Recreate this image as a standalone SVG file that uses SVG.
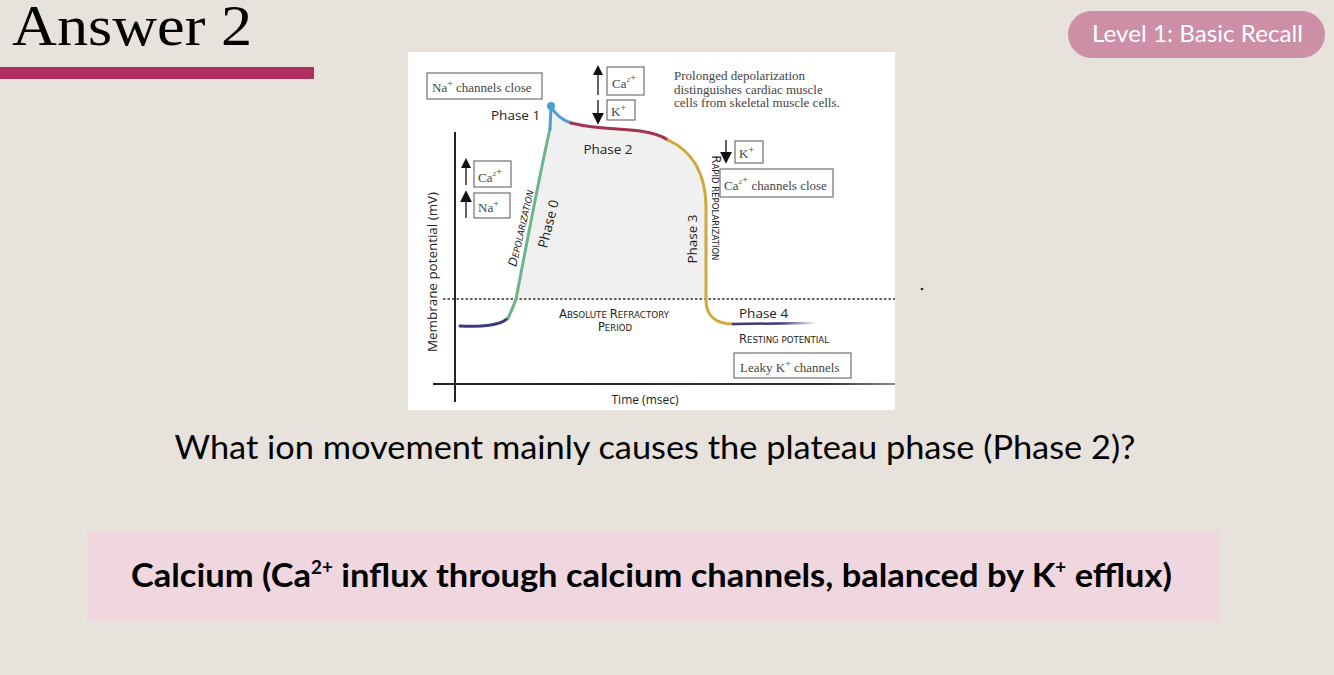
<svg xmlns="http://www.w3.org/2000/svg" width="1334" height="675" viewBox="0 0 1334 675">
<defs>
<style>
.serif{font-family:"Liberation Serif","DejaVu Serif",serif;fill:#444;font-size:13px}
.sans{font-family:"Open Sans","Noto Sans","Liberation Sans",sans-serif;fill:#222}
.sc{font-family:"DejaVu Sans Condensed","Liberation Sans Narrow","Liberation Sans",sans-serif;fill:#222;font-size:9px}
.sc .big{font-size:12px}
.box{fill:#fff;stroke:#555;stroke-width:1}
.arr{stroke:#111;stroke-width:1.3;fill:none}
.lato{font-family:Lato,"Open Sans","Liberation Sans",sans-serif}
</style>
<marker id="ah" viewBox="0 0 10 10" refX="6" refY="5" markerWidth="10" markerHeight="10" markerUnits="userSpaceOnUse" orient="auto">
<path d="M0,0 L10,5 L0,10 z" fill="#111"/>
</marker>
<marker id="ahb" viewBox="0 0 10 10" refX="6" refY="5" markerWidth="12" markerHeight="12" markerUnits="userSpaceOnUse" orient="auto">
<path d="M0,0 L10,5 L0,10 z" fill="#111"/>
</marker>
<linearGradient id="fade" gradientUnits="userSpaceOnUse" x1="733" y1="0" x2="813" y2="0">
<stop offset="0" stop-color="#3b3b80"/><stop offset="0.6" stop-color="#3b3b80"/><stop offset="1" stop-color="#3b3b80" stop-opacity="0.1"/>
</linearGradient>
<linearGradient id="axfade" gradientUnits="userSpaceOnUse" x1="433" y1="0" x2="895" y2="0">
<stop offset="0" stop-color="#222"/><stop offset="0.85" stop-color="#333"/><stop offset="1" stop-color="#888"/>
</linearGradient>
</defs>
<rect width="1334" height="675" fill="#e7e2db"/>

<g id="title">
<text x="12" y="45" font-family="Liberation Serif,'DejaVu Serif',serif" font-size="56" fill="#000" textLength="240" lengthAdjust="spacingAndGlyphs">Answer 2</text>
<rect x="0" y="67" width="314" height="12" fill="#b02e5f"/>
</g>

<g id="level-badge">
<rect x="1068" y="11" width="257" height="47" rx="23.5" fill="#cc8fa5"/>
<text class="lato" x="1092" y="42" font-size="23" fill="#fff" textLength="211" lengthAdjust="spacingAndGlyphs">Level 1: Basic Recall</text>
</g>

<g id="chart">
<rect x="408" y="52" width="487" height="358" fill="#fff"/>
<path d="M516,299 L520,280 L548,130 L550,107 C556,115 562,120 571,123 C600,130 620,128 640,131 C655,133 662,136 668,140 C690,150 705,170 706,205 L706,299 Z" fill="#f0f0f0"/>
<line x1="443" y1="299" x2="895" y2="299" stroke="#333" stroke-width="1.5" stroke-dasharray="2.5 2"/>
<line x1="455" y1="132" x2="455" y2="402" stroke="#222" stroke-width="2"/>
<line x1="433" y1="384" x2="895" y2="384" stroke="url(#axfade)" stroke-width="2"/>
<g id="curve" fill="none" stroke-width="3" stroke-linecap="round">
<path d="M460,326 C482,327 500,326 508,318" stroke="#3a3a7a"/>
<path d="M508,318 C512,310 514,305 516,299 C522,268 540,172 550,129" stroke="#6cb58c"/>
<path d="M550,129 L551,107 C556,115 562,120 571,123" stroke="#4a9fd8"/>
<path d="M571,123 C600,130 620,128 640,131 C655,133 662,136 668,140" stroke="#a23352"/>
<path d="M668,140 C690,150 705,170 706,205 L706,300 C706,315 715,324 733,324" stroke="#d3a83a"/>
<path d="M733,324 L813,323" stroke="url(#fade)" stroke-width="2.5"/>
<circle cx="551" cy="106" r="4" fill="#4a9fd8" stroke="none"/>
</g>
<text class="sans" x="0" y="0" font-size="12.5" transform="translate(437,272) rotate(-90)" text-anchor="middle" textLength="160" lengthAdjust="spacingAndGlyphs">Membrane potential (mV)</text>
<text class="sans" x="645" y="404" font-size="12" text-anchor="middle">Time (msec)</text>
</g>

<g id="na-close">
<rect class="box" x="427" y="73" width="115" height="26"/>
<text class="serif" x="432" y="92">Na<tspan font-size="10" dy="-5">+</tspan><tspan dy="5"> channels close</tspan></text>
</g>

<g id="phase1"><text class="sans" x="491" y="120" font-size="13.5">Phase 1</text></g>

<g id="ca-up-top">
<line class="arr" x1="598" y1="95" x2="598" y2="69" marker-end="url(#ah)"/>
<rect class="box" x="607" y="67" width="37" height="28"/>
<text class="serif" x="612" y="88">Ca<tspan font-size="7" dy="-6">2</tspan><tspan font-size="11" dy="-1">+</tspan></text>
</g>
<g id="k-down-top">
<line class="arr" x1="598" y1="100" x2="598" y2="120" marker-end="url(#ahb)"/>
<rect class="box" x="607" y="100" width="28" height="20"/>
<text class="serif" x="611" y="116">K<tspan font-size="10" dy="-5">+</tspan></text>
</g>

<g id="phase2"><text class="sans" x="608" y="154" font-size="13.5" text-anchor="middle">Phase 2</text></g>

<g id="note">
<text class="serif" font-size="12" fill="#555"><tspan x="674" y="80">Prolonged depolarization</tspan><tspan x="674" y="93.5">distinguishes cardiac muscle</tspan><tspan x="674" y="107">cells from skeletal muscle cells.</tspan></text>
</g>

<g id="k-down-right">
<line class="arr" x1="726" y1="140" x2="726" y2="159" marker-end="url(#ahb)"/>
<rect class="box" x="735" y="141" width="28" height="22"/>
<text class="serif" x="739" y="158">K<tspan font-size="10" dy="-5">+</tspan></text>
</g>
<g id="ca-close">
<rect class="box" x="720" y="169" width="113" height="28"/>
<text class="serif" x="724" y="190">Ca<tspan font-size="7" dy="-6">2</tspan><tspan font-size="11" dy="-1">+</tspan><tspan dy="7"> channels close</tspan></text>
</g>

<g id="left-ions">
<line class="arr" x1="466" y1="185" x2="466" y2="162" marker-end="url(#ah)"/>
<rect class="box" x="474" y="161" width="37" height="26"/>
<text class="serif" x="478" y="182">Ca<tspan font-size="7" dy="-6">2</tspan><tspan font-size="11" dy="-1">+</tspan></text>
<line class="arr" x1="466" y1="218" x2="466" y2="195" stroke-width="1.6" marker-end="url(#ahb)"/>
<rect class="box" x="474" y="193" width="36" height="25"/>
<text class="serif" x="478" y="212">Na<tspan font-size="10" dy="-5">+</tspan></text>
</g>

<g id="depolarization">
<text class="sc" transform="translate(525,229) rotate(-77)" text-anchor="middle" font-style="italic" textLength="78" lengthAdjust="spacingAndGlyphs"><tspan class="big">D</tspan>EPOLARIZATION</text>
</g>
<g id="phase0">
<text class="sans" font-size="13.5" transform="translate(553,225) rotate(-76)" text-anchor="middle">Phase 0</text>
</g>

<g id="phase3">
<text class="sans" font-size="13.5" transform="translate(697,239) rotate(-90)" text-anchor="middle">Phase 3</text>
</g>
<g id="rapid-repol">
<text class="sc" transform="translate(712,208) rotate(90)" text-anchor="middle" textLength="105" lengthAdjust="spacingAndGlyphs"><tspan class="big">R</tspan>APID REPOLARIZATION</text>
</g>

<g id="arp">
<text class="sc" x="614" y="318" text-anchor="middle" textLength="110" lengthAdjust="spacingAndGlyphs"><tspan class="big">A</tspan>BSOLUTE <tspan class="big">R</tspan>EFRACTORY</text>
<text class="sc" x="615" y="331" text-anchor="middle" textLength="34" lengthAdjust="spacingAndGlyphs"><tspan class="big">P</tspan>ERIOD</text>
</g>

<g id="phase4">
<text class="sans" x="739" y="318" font-size="13.5">Phase 4</text>
<text class="sc" x="739" y="343" textLength="90" lengthAdjust="spacingAndGlyphs"><tspan class="big">R</tspan>ESTING POTENTIAL</text>
</g>
<g id="leaky">
<rect class="box" x="734" y="353" width="117" height="25"/>
<text class="serif" x="740" y="372">Leaky K<tspan font-size="10" dy="-5">+</tspan><tspan dy="5"> channels</tspan></text>
</g>

<circle cx="922" cy="289" r="1.3" fill="#222"/>

<g id="question">
<text class="lato" x="655" y="459" font-size="32" fill="#000" text-anchor="middle" textLength="961" lengthAdjust="spacingAndGlyphs">What ion movement mainly causes the plateau phase (Phase 2)?</text>
</g>

<g id="answer">
<rect x="87" y="531" width="1132" height="90" fill="#efd6df"/>
<text class="lato" x="131" y="587" font-size="33" font-weight="bold" fill="#000" textLength="1041" lengthAdjust="spacingAndGlyphs">Calcium (Ca<tspan font-size="18" dy="-13">2+</tspan><tspan dy="13"> influx through calcium channels, balanced by K</tspan><tspan font-size="18" dy="-13">+</tspan><tspan dy="13"> efflux)</tspan></text>
</g>
</svg>
